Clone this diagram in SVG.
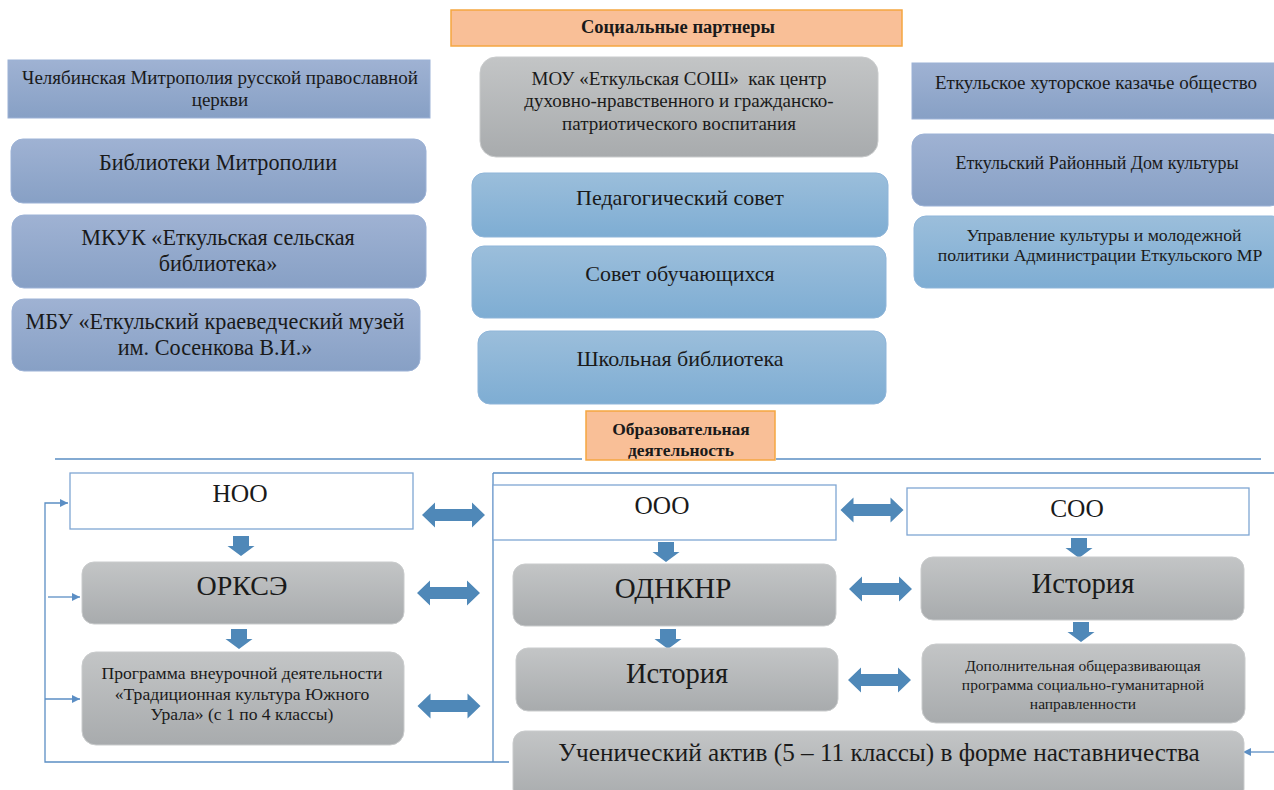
<svg xmlns="http://www.w3.org/2000/svg" width="1274" height="790" viewBox="0 0 1274 790">
<defs>
<linearGradient id="gBlueGray" x1="0" y1="0" x2="0" y2="1"><stop offset="0" stop-color="#9fb2d3"/><stop offset="1" stop-color="#87a0c5"/></linearGradient>
<linearGradient id="gBlue" x1="0" y1="0" x2="0" y2="1"><stop offset="0" stop-color="#9bbedb"/><stop offset="1" stop-color="#7eadd3"/></linearGradient>
<linearGradient id="gGray" x1="0" y1="0" x2="0" y2="1"><stop offset="0" stop-color="#c3c5c6"/><stop offset="1" stop-color="#a8abad"/></linearGradient>
<marker id="ah" viewBox="0 0 10 10" refX="10" refY="5" markerWidth="8" markerHeight="8" markerUnits="userSpaceOnUse" orient="auto"><path d="M0,0 L10,5 L0,10 z" fill="#5b8ec4"/></marker>
<path id="down" d="M-8,0 H8 V10 H13.5 L0,20 L-13.5,10 H-8 z" fill="#4f88b8"/>
<path id="dbl" d="M-31.5,0 L-18.5,-12.5 V-6 H18.5 V-12.5 L31.5,0 L18.5,12.5 V6 H-18.5 V12.5 z" fill="#4f88b8"/>
</defs>
<style>
text{font-family:"Liberation Serif","DejaVu Serif","Times New Roman",serif;fill:#1a1a1a;text-anchor:middle}
.hdr{fill:#f9bf97;stroke:#f5a640;stroke-width:1.5}
.bg{fill:url(#gBlueGray);stroke:#9cb2d6;stroke-width:1}
.bl{fill:url(#gBlue);stroke:#8fb5d9;stroke-width:1}
.gr{fill:url(#gGray);stroke:#c9cbcc;stroke-width:1}
.wh{fill:#ffffff;stroke:#7fa6d3;stroke-width:1.3}
.ln{fill:none;stroke:#5b8ec4;stroke-width:1.3}
.b{font-weight:bold}
</style>
<rect width="1274" height="790" fill="#ffffff"/>

<g id="connectors">
<path class="ln" d="M55,459 H582 M776,459 H1261"/>
<path class="ln" d="M493,473 H1274 M493,473 V762"/>
<path class="ln" d="M509,762 H45 V503 H68" marker-end="url(#ah)"/>
<path class="ln" d="M48,597 H80" marker-end="url(#ah)"/>
<path class="ln" d="M45,699 H80" marker-end="url(#ah)"/>
<path class="ln" d="M1274,752 H1243" marker-end="url(#ah)"/>
<use href="#down" x="241" y="536"/>
<use href="#down" x="239" y="629"/>
<use href="#down" x="666" y="542"/>
<use href="#down" x="668" y="629"/>
<use href="#down" x="1079" y="538"/>
<use href="#down" x="1081" y="622"/>
<use href="#dbl" x="453.5" y="515"/>
<use href="#dbl" x="448.5" y="593"/>
<use href="#dbl" x="449" y="706"/>
<use href="#dbl" x="872" y="510"/>
<use href="#dbl" x="880.5" y="589"/>
<use href="#dbl" x="879.5" y="680"/>
</g>

<g id="social-partners">
<rect class="hdr" x="451" y="10" width="451" height="36"/>
<text class="b" x="678" y="33" font-size="18.5">Социальные партнеры</text>
</g>

<g id="mitropolia">
<rect class="bg" x="8" y="60" width="422" height="58"/>
<text x="220" y="84" font-size="19">Челябинская Митрополия русской православной</text>
<text x="220" y="106" font-size="19">церкви</text>
</g>
<g id="lib-mitropolii">
<rect class="bg" x="11" y="139" width="415" height="64" rx="12"/>
<text x="218" y="170" font-size="22.2">Библиотеки Митрополии</text>
</g>
<g id="mkuk">
<rect class="bg" x="12" y="215" width="414" height="73" rx="12"/>
<text x="218" y="245" font-size="22.2">МКУК «Еткульская сельская</text>
<text x="218" y="271" font-size="22.2">библиотека»</text>
</g>
<g id="mbu">
<rect class="bg" x="12" y="299" width="408" height="72" rx="12"/>
<text x="215" y="329" font-size="22.2">МБУ «Еткульский краеведческий музей</text>
<text x="215" y="355" font-size="22.2">им. Сосенкова В.И.»</text>
</g>

<g id="mou">
<rect class="gr" x="480" y="57" width="398" height="100" rx="16"/>
<text x="679" y="85" font-size="19">МОУ «Еткульская СОШ»&#160; как центр</text>
<text x="679" y="107" font-size="19">духовно-нравственного и гражданско-</text>
<text x="679" y="130" font-size="19">патриотического воспитания</text>
</g>
<g id="ped-sovet">
<rect class="bl" x="472" y="173" width="416" height="64" rx="12"/>
<text x="680" y="205" font-size="22">Педагогический совет</text>
</g>
<g id="sovet-obuch">
<rect class="bl" x="472" y="246" width="414" height="72" rx="12"/>
<text x="680" y="281" font-size="22">Совет обучающихся</text>
</g>
<g id="school-lib">
<rect class="bl" x="478" y="331" width="408" height="73" rx="12"/>
<text x="680" y="366" font-size="22">Школьная библиотека</text>
</g>

<g id="kazachye">
<rect class="bg" x="912" y="63" width="370" height="56"/>
<text x="1096" y="89" font-size="19">Еткульское хуторское казачье общество</text>
</g>
<g id="dom-kultury">
<rect class="bg" x="912" y="134" width="370" height="72" rx="12"/>
<text x="1097" y="169" font-size="18">Еткульский Районный Дом культуры</text>
</g>
<g id="upravlenie">
<rect class="bl" x="914" y="216" width="370" height="72" rx="12"/>
<text x="1104" y="241" font-size="17.7">Управление культуры и молодежной</text>
<text x="1100" y="261" font-size="17.7">политики Администрации Еткульского МР</text>
</g>

<g id="obraz">
<rect class="hdr" x="586" y="411" width="189" height="49"/>
<text class="b" x="681" y="435" font-size="17.5">Образовательная</text>
<text class="b" x="681" y="456" font-size="17.5">деятельность</text>
</g>

<g id="noo">
<rect class="wh" x="70" y="473" width="343" height="56"/>
<text x="240" y="502" font-size="25.5">НОО</text>
</g>
<g id="orkse">
<rect class="gr" x="82" y="562" width="322" height="62" rx="12"/>
<text x="242" y="595" font-size="28">ОРКСЭ</text>
</g>
<g id="programma">
<rect class="gr" x="82" y="652" width="322" height="93" rx="14"/>
<text x="242" y="679" font-size="17.6">Программа внеурочной деятельности</text>
<text x="242" y="700" font-size="17.6">«Традиционная культура Южного</text>
<text x="242" y="720" font-size="17.6">Урала» (с 1 по 4 классы)</text>
</g>

<g id="ooo">
<rect class="wh" x="493" y="485" width="343" height="55"/>
<text x="662" y="514" font-size="25.3">ООО</text>
</g>
<g id="odnknr">
<rect class="gr" x="513" y="564" width="323" height="62" rx="12"/>
<text x="673" y="598" font-size="29">ОДНКНР</text>
</g>
<g id="istoriya-ooo">
<rect class="gr" x="516" y="648" width="322" height="63" rx="12"/>
<text x="677" y="683" font-size="28.5">История</text>
</g>
<g id="uchenicheskiy">
<rect class="gr" x="513" y="731" width="731" height="70" rx="12"/>
<text x="879" y="761" font-size="25.2">Ученический актив (5 – 11 классы) в форме наставничества</text>
</g>

<g id="soo">
<rect class="wh" x="907" y="488" width="342" height="47"/>
<text x="1077" y="517" font-size="25.4">СОО</text>
</g>
<g id="istoriya-soo">
<rect class="gr" x="921" y="557" width="323" height="63" rx="12"/>
<text x="1083" y="593" font-size="28.7">История</text>
</g>
<g id="dop-programma">
<rect class="gr" x="922" y="644" width="323" height="79" rx="14"/>
<text x="1083" y="671" font-size="15.5">Дополнительная общеразвивающая</text>
<text x="1083" y="690" font-size="15.5">программа социально-гуманитарной</text>
<text x="1083" y="709" font-size="15.5">направленности</text>
</g>
</svg>
